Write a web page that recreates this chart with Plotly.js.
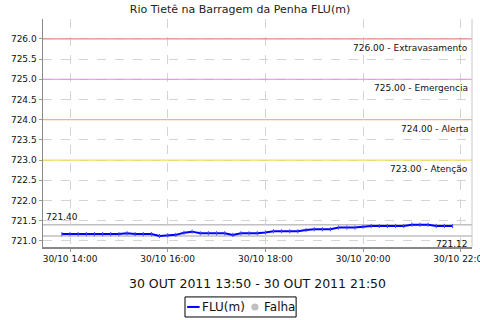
<!DOCTYPE html>
<html><head><meta charset="utf-8">
<script src="https://cdn.plot.ly/plotly-3.0.1.min.js"></script>
<style>html,body{margin:0;padding:0;background:#fff}#chart{width:480px;height:320px}</style>
</head><body><div id="chart"></div>
<script>
const times = ["2011-10-30 13:50","2011-10-30 14:00","2011-10-30 14:10","2011-10-30 14:20","2011-10-30 14:30","2011-10-30 14:40","2011-10-30 14:50",
"2011-10-30 15:00","2011-10-30 15:10","2011-10-30 15:20","2011-10-30 15:30","2011-10-30 15:40","2011-10-30 15:50",
"2011-10-30 16:00","2011-10-30 16:10","2011-10-30 16:20","2011-10-30 16:30","2011-10-30 16:40","2011-10-30 16:50",
"2011-10-30 17:00","2011-10-30 17:10","2011-10-30 17:20","2011-10-30 17:30","2011-10-30 17:40","2011-10-30 17:50",
"2011-10-30 18:00","2011-10-30 18:10","2011-10-30 18:20","2011-10-30 18:30","2011-10-30 18:40","2011-10-30 18:50",
"2011-10-30 19:00","2011-10-30 19:10","2011-10-30 19:20","2011-10-30 19:30","2011-10-30 19:40","2011-10-30 19:50",
"2011-10-30 20:00","2011-10-30 20:10","2011-10-30 20:20","2011-10-30 20:30","2011-10-30 20:40","2011-10-30 20:50",
"2011-10-30 21:00","2011-10-30 21:10","2011-10-30 21:20","2011-10-30 21:30","2011-10-30 21:40","2011-10-30 21:50"];
const flu = [721.17,721.17,721.17,721.17,721.17,721.17,721.17,
721.17,721.19,721.17,721.17,721.17,721.12,
721.14,721.15,721.20,721.23,721.19,721.19,
721.19,721.19,721.15,721.19,721.19,721.19,
721.21,721.24,721.24,721.24,721.24,721.27,
721.29,721.29,721.29,721.33,721.33,721.33,
721.35,721.37,721.37,721.37,721.37,721.37,
721.40,721.40,721.40,721.37,721.37,721.37];
const thresholdValues = [726.0, 725.0, 724.0, 723.0];
const thresholdNames = ["Extravasamento", "Emergencia", "Alerta", "Atenção"];
const maxValue = 721.40;
const minValue = 721.12;
const seriesNames = ["FLU(m)", "Falha"];
const xTitle = "30 OUT 2011 13:50 - 30 OUT 2011 21:50";
const chartTitle = "Rio Tietê na Barragem da Penha FLU(m)";

const thresholdColors = ["#e88a8a", "#e08ae0", "#f5b56a", "#f3dc5a"];
const font = "DejaVu Sans, sans-serif";
const txt = "#111";

const shapes = [];
const annotations = [];
thresholdValues.forEach((v, i) => {
  shapes.push({type:"line", xref:"paper", x0:0, x1:1, yref:"y", y0:v, y1:v, line:{color:thresholdColors[i], width:1.2}, layer:"above"});
  annotations.push({xref:"paper", x:1, xshift:-2, yref:"y", y:v, yshift:-2, xanchor:"right", yanchor:"top",
    text: v.toFixed(2) + " - " + thresholdNames[i], showarrow:false, font:{family:font, size:9, color:txt}});
});
shapes.push({type:"line", xref:"paper", x0:0, x1:1, yref:"y", y0:maxValue, y1:maxValue, line:{color:"#c0c0c0", width:1.5}, layer:"below"});
shapes.push({type:"line", xref:"paper", x0:0, x1:1, yref:"y", y0:minValue, y1:minValue, line:{color:"#c0c0c0", width:1.5}, layer:"below"});
shapes.push({type:"line", xref:"paper", x0:1, x1:1, yref:"paper", y0:0, y1:1, line:{color:"#c8c8c8", width:1}});
annotations.push({xref:"paper", x:0, xshift:1, yref:"y", y:maxValue, yshift:1, xanchor:"left", yanchor:"bottom",
  text: maxValue.toFixed(2), showarrow:false, font:{family:font, size:9, color:txt}});
annotations.push({xref:"paper", x:1, xshift:-2, yref:"y", y:minValue, yshift:-1, xanchor:"right", yanchor:"top",
  text: minValue.toFixed(2), showarrow:false, font:{family:font, size:9, color:txt}});

// hand-drawn legend box (paper coordinates below the plot)
shapes.push({type:"rect", xref:"paper", yref:"paper", x0:0.331, x1:0.590, y0:-0.307, y1:-0.219, line:{color:"#000", width:1}, fillcolor:"#fff"});
shapes.push({type:"line", xref:"paper", yref:"paper", x0:0.336, x1:0.365, y0:-0.263, y1:-0.263, line:{color:"#0000ff", width:2}});
shapes.push({type:"circle", xref:"paper", yref:"paper", x0:0.4855, x1:0.5025, y0:-0.2785, y1:-0.2475, line:{color:"#c0c0c0", width:0}, fillcolor:"#c0c0c0"});
annotations.push({xref:"paper", yref:"paper", x:0.366, y:-0.263, xanchor:"left", yanchor:"middle", showarrow:false,
  text:seriesNames[0], font:{family:font, size:12, color:txt}});
annotations.push({xref:"paper", yref:"paper", x:0.510, y:-0.263, xanchor:"left", yanchor:"middle", showarrow:false,
  text:seriesNames[1], font:{family:font, size:12, color:txt}});

const data = [
  {x:times, y:flu, type:"scatter", mode:"lines+markers", name:seriesNames[0],
   line:{color:"#0000ff", width:2}, marker:{symbol:"line-ns-open", size:3, color:"#4a4aff", line:{color:"#4a4aff", width:1}}},
  {x:[null], y:[null], type:"scatter", mode:"markers", name:seriesNames[1], marker:{color:"#c0c0c0", size:8}}
];

const layout = {
  width:480, height:320,
  margin:{l:43, r:8, t:19, b:73},
  paper_bgcolor:"#fff", plot_bgcolor:"#fff",
  font:{family:font, size:10, color:"#222"},
  title:{text:chartTitle, x:0.5, xanchor:"center", y:0.985, yanchor:"top", font:{family:font, size:11, color:"#222"}},
  xaxis:{type:"date", range:["2011-10-30 13:26:48","2011-10-30 22:13:54"], automargin:false,
    tick0:"2011-10-30 14:00", dtick:7200000, tickformat:"%d/%m %H:%M", ticklabeloverflow:"allow",
    showgrid:true, gridcolor:"#d4d4d4", griddash:"dash", gridwidth:1,
    showline:true, linecolor:"#888", linewidth:1.5,
    ticks:"outside", ticklen:3, tickcolor:"#999",
    tickfont:{family:font, size:9, color:txt},
    title:{text:xTitle, font:{family:font, size:12.5, color:txt}, standoff:16},
    zeroline:false},
  yaxis:{range:[720.85, 726.49], dtick:0.5, tick0:721, tickformat:".1f", automargin:false,
    showgrid:true, gridcolor:"#d4d4d4", griddash:"dash", gridwidth:1,
    showline:true, linecolor:"#888", linewidth:1.5,
    ticks:"outside", ticklen:3, tickcolor:"#999",
    tickfont:{family:font, size:9, color:txt}, zeroline:false},
  showlegend:false,
  shapes:shapes, annotations:annotations
};
Plotly.newPlot("chart", data, layout, {displayModeBar:false, staticPlot:true});
</script></body></html>
